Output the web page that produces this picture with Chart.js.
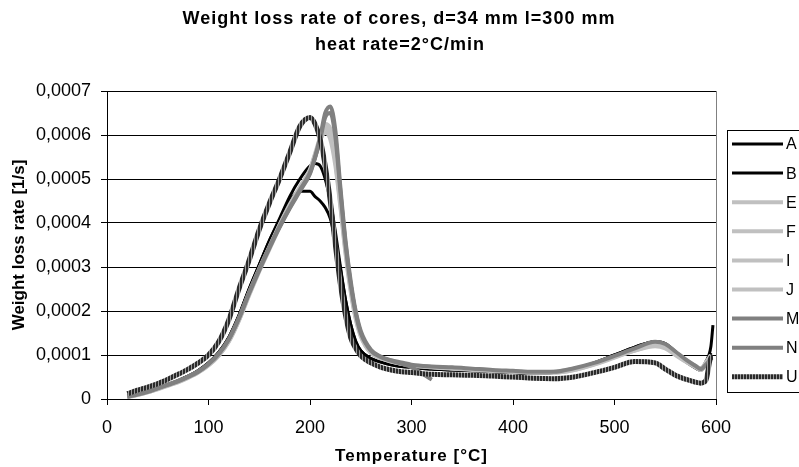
<!DOCTYPE html>
<html>
<head>
<meta charset="utf-8">
<script src="https://cdn.jsdelivr.net/npm/chart.js@4/dist/chart.umd.min.js"></script>
<style>
  html, body { margin: 0; padding: 0; background: #fff; }
</style>
</head>
<body>
<canvas id="chart" width="799" height="467"></canvas>
<script>
// temperature grid [°C]
const temps = [20, 30, 40, 50, 60, 70, 80, 90, 100, 110, 120, 130, 140, 150, 160, 170, 180, 190,
  200, 205, 210, 215, 220, 225, 230, 235, 240, 245, 250, 260, 270, 280, 290, 300, 320, 340, 360,
  380, 400, 420, 440, 460, 480, 500, 520, 540, 550, 560, 570, 580, 585, 590, 595, 597];

// weight loss rate, in units of 1e-4 1/s
const rateA = [0.06, 0.11, 0.17, 0.25, 0.33, 0.42, 0.52, 0.65, 0.82, 1.06, 1.4, 1.9, 2.5, 3.05, 3.6, 4.1, 4.6, 5.0,
  5.3, 5.35, 5.3, 5.0, 4.5, 3.8, 3.0, 2.25, 1.7, 1.32, 1.1, 0.92, 0.84, 0.78, 0.74, 0.72, 0.68, 0.66, 0.64,
  0.62, 0.6, 0.58, 0.6, 0.68, 0.82, 1.0, 1.18, 1.3, 1.25, 1.05, 0.85, 0.7, 0.65, 0.8, 1.05, null];
const rateB = [0.06, 0.11, 0.17, 0.25, 0.33, 0.42, 0.52, 0.65, 0.82, 1.06, 1.4, 1.9, 2.5, 3.05, 3.6, 4.05, 4.5, 4.72,
  4.72, 4.6, 4.5, 4.35, 4.1, 3.6, 2.95, 2.25, 1.7, 1.3, 1.1, 0.92, 0.84, 0.78, 0.74, 0.72, 0.68, 0.66, 0.64,
  0.62, 0.6, 0.58, 0.6, 0.68, 0.82, 1.0, 1.18, 1.3, 1.26, 1.08, 0.88, 0.72, 0.7, 0.85, 1.2, 1.68];
const rateE = [0.05, 0.1, 0.16, 0.24, 0.32, 0.4, 0.5, 0.62, 0.78, 1.0, 1.32, 1.8, 2.4, 2.95, 3.45, 3.95, 4.4, 4.8,
  5.2, 5.55, 5.9, 6.15, 6.0, 5.4, 4.4, 3.35, 2.5, 1.85, 1.45, 1.05, 0.92, 0.85, 0.8, 0.76, 0.72, 0.7, 0.67,
  0.64, 0.62, 0.6, 0.6, 0.66, 0.78, 0.94, 1.1, 1.22, 1.18, 1.02, 0.86, 0.72, 0.66, 0.8, 1.0, null];
const rateF = [0.04, 0.09, 0.15, 0.22, 0.3, 0.38, 0.48, 0.6, 0.76, 0.98, 1.3, 1.78, 2.35, 2.9, 3.4, 3.9, 4.35, 4.75,
  5.15, 5.5, 5.85, 6.2, 6.1, 5.6, 4.6, 3.5, 2.6, 1.95, 1.5, 1.08, 0.94, 0.86, 0.8, 0.77, 0.73, 0.7, 0.68,
  0.65, 0.63, 0.61, 0.61, 0.68, 0.8, 0.96, 1.12, 1.25, 1.2, 1.05, 0.88, 0.74, 0.68, 0.82, 0.98, null];
const rateI = [0.05, 0.1, 0.15, 0.23, 0.31, 0.39, 0.49, 0.61, 0.77, 0.99, 1.31, 1.79, 2.38, 2.92, 3.42, 3.92, 4.38, 4.78,
  5.18, 5.52, 5.88, 6.05, 5.9, 5.3, 4.35, 3.3, 2.45, 1.82, 1.42, 1.04, 0.92, 0.85, 0.8, 0.76, 0.72, 0.69, 0.66,
  0.64, 0.62, 0.6, 0.6, 0.66, 0.79, 0.95, 1.1, 1.2, 1.15, 1.0, 0.85, 0.72, 0.66, 0.78, 0.96, null];
const rateJ = [0.05, 0.1, 0.16, 0.23, 0.31, 0.4, 0.5, 0.62, 0.78, 1.0, 1.33, 1.82, 2.42, 2.96, 3.46, 3.96, 4.42, 4.82,
  5.22, 5.58, 5.95, 6.25, 6.15, 5.65, 4.65, 3.55, 2.62, 1.95, 1.5, 1.08, 0.94, 0.86, 0.81, 0.77, 0.73, 0.71, 0.68,
  0.65, 0.63, 0.61, 0.62, 0.69, 0.81, 0.97, 1.13, 1.26, 1.22, 1.06, 0.9, 0.75, 0.69, 0.83, 1.0, null];
const rateM = [0.05, 0.1, 0.16, 0.24, 0.32, 0.4, 0.5, 0.62, 0.79, 1.02, 1.35, 1.83, 2.4, 2.93, 3.43, 3.9, 4.33, 4.72,
  5.12, 5.48, 5.9, 6.4, 6.5, 5.95, 4.7, 3.5, 2.62, 1.95, 1.5, 1.1, 0.95, 0.87, 0.8, 0.72, 0.44, null, null,
  null, null, null, null, null, null, null, null, null, null, null, null, null, null, null, null, null];
const rateN = [0.06, 0.11, 0.17, 0.25, 0.33, 0.41, 0.51, 0.63, 0.8, 1.03, 1.36, 1.85, 2.42, 2.95, 3.45, 3.92, 4.35, 4.75,
  5.15, 5.5, 5.95, 6.5, 6.65, 6.1, 4.8, 3.6, 2.7, 2.0, 1.55, 1.12, 0.96, 0.88, 0.83, 0.78, 0.74, 0.72, 0.69,
  0.66, 0.64, 0.62, 0.62, 0.7, 0.82, 0.98, 1.15, 1.3, 1.25, 1.08, 0.9, 0.75, 0.68, 0.78, 0.92, null];
const rateU = [0.12, 0.2, 0.27, 0.35, 0.45, 0.56, 0.68, 0.82, 1.0, 1.3, 1.8, 2.5, 3.15, 3.85, 4.45, 5.0, 5.6, 6.2,
  6.4, 6.25, 5.9, 5.3, 4.5, 3.5, 2.6, 1.9, 1.4, 1.15, 0.98, 0.82, 0.72, 0.66, 0.62, 0.6, 0.56, 0.55, 0.54,
  0.52, 0.5, 0.47, 0.46, 0.5, 0.6, 0.72, 0.85, 0.82, 0.68, 0.54, 0.45, 0.38, 0.36, 0.42, 0.94, 0.95];

const seriesNames = ['A', 'B', 'E', 'F', 'I', 'J', 'M', 'N', 'U'];
const seriesRates = [rateA, rateB, rateE, rateF, rateI, rateJ, rateM, rateN, rateU];
const yTicks = [0, 0.0001, 0.0002, 0.0003, 0.0004, 0.0005, 0.0006, 0.0007];

const FONT = '"Liberation Sans", Arial, sans-serif';

// hatched look of series U
function hatchPattern() {
    const c = document.createElement('canvas');
    c.width = 3; c.height = 1;
    const g = c.getContext('2d');
    g.fillStyle = '#999'; g.fillRect(0, 0, 3, 1);
    g.fillStyle = '#2a2a2a'; g.fillRect(0, 0, 2, 1);
    return g.createPattern(c, 'repeat');
}
const ctx = document.getElementById('chart').getContext('2d');
const styles = {
    A: { color: '#000', width: 3 },
    B: { color: '#000', width: 3 },
    E: { color: '#c0c0c0', width: 4 },
    F: { color: '#c0c0c0', width: 4 },
    I: { color: '#c0c0c0', width: 4 },
    J: { color: '#c0c0c0', width: 4 },
    M: { color: '#808080', width: 4 },
    N: { color: '#808080', width: 4 },
    U: { color: hatchPattern(), width: 5 }
};

const datasets = seriesNames.map((name, i) => ({
    label: name,
    data: temps.map((t, k) => ({ x: t, y: seriesRates[i][k] === null ? null : seriesRates[i][k] * 1e-4 })),
    borderColor: styles[name].color,
    borderWidth: styles[name].width,
    pointRadius: 0,
    cubicInterpolationMode: 'monotone',
    spanGaps: false,
    order: seriesNames.length - i
}));

// title, x-axis title, legend and the right frame line
const decor = {
    id: 'decor',
    afterDraw(chart) {
        const c = chart.ctx;
        const a = chart.chartArea;
        c.save();
        c.strokeStyle = '#808080';
        c.lineWidth = 1;
        c.beginPath();
        c.moveTo(a.right + 0.5, a.top);
        c.lineTo(a.right + 0.5, a.bottom);
        c.stroke();

        c.fillStyle = '#000';
        c.textAlign = 'center';
        c.textBaseline = 'middle';
        c.letterSpacing = '1px';
        c.font = 'bold 18px ' + FONT;
        c.fillText('Weight loss rate of cores, d=34 mm l=300 mm', 399, 19);
        c.fillText('heat rate=2°C/min', 400, 45);
        c.font = 'bold 17px ' + FONT;
        c.fillText('Temperature [°C]', (a.left + a.right) / 2, 456);
        c.letterSpacing = '0px';

        c.strokeStyle = '#000';
        c.lineWidth = 1;
        c.strokeRect(727.5, 130.5, 90, 262);
        c.textAlign = 'left';
        c.font = '16px ' + FONT;
        chart.data.datasets.forEach((ds, i) => {
            const y = 144 + i * 29.1;
            c.strokeStyle = ds.borderColor;
            c.lineWidth = ds.borderWidth;
            c.beginPath();
            c.moveTo(732, y);
            c.lineTo(783, y);
            c.stroke();
            c.fillStyle = '#000';
            c.fillText(ds.label, 786, y + 1);
        });
        c.restore();
    }
};

new Chart(ctx, {
    type: 'line',
    data: { datasets },
    plugins: [decor],
    options: {
        responsive: false,
        animation: false,
        layout: { padding: { top: 91, right: 83, left: 0, bottom: 0 } },
        plugins: {
            legend: { display: false },
            tooltip: { enabled: false },
            title: { display: false }
        },
        scales: {
            x: {
                type: 'linear',
                min: 0,
                max: 600,
                ticks: { stepSize: 100, padding: 12, color: '#000', font: { family: FONT, size: 18 } },
                grid: { drawOnChartArea: false, drawTicks: true, tickLength: 6, color: '#000' },
                border: { color: '#000', width: 1 },
                afterFit(s) { s.height = 68; }
            },
            y: {
                min: 0,
                max: 0.0007,
                afterBuildTicks(s) { s.ticks = yTicks.map(v => ({ value: v })); },
                ticks: {
                    padding: 10, color: '#000', font: { family: FONT, size: 18 },
                    callback: v => v === 0 ? '0' : v.toFixed(4).replace('.', ',')
                },
                grid: { color: '#000', tickLength: 6 },
                border: { color: '#000', width: 1 },
                title: {
                    display: true, text: 'Weight loss rate [1/s]', color: '#000',
                    font: { family: FONT, size: 17, weight: 'bold' }, padding: { top: 9, bottom: 4 }
                },
                afterFit(s) { s.width = 107; }
            }
        }
    }
});
</script>
</body>
</html>
